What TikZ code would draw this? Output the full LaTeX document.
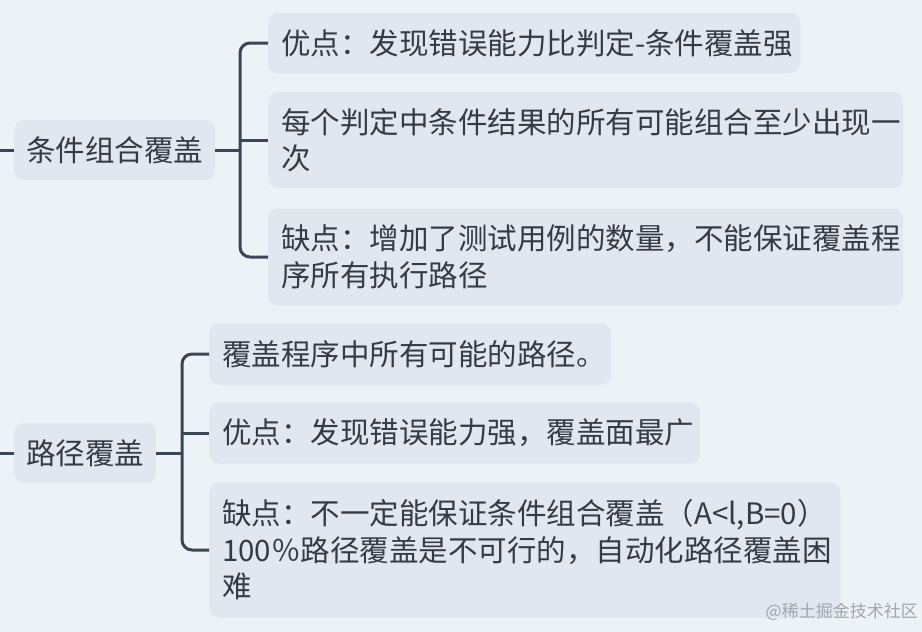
\documentclass[tikz,border=0pt]{standalone}
\usepackage{fontspec}
\usepackage{xcolor}
\usepackage{tikz}
\usetikzlibrary{positioning, calc}
\newfontfamily\cjk{Noto Sans CJK SC}
\definecolor{bgc}{RGB}{237,242,246}
\definecolor{boxc}{RGB}{226,231,239}
\definecolor{txtc}{RGB}{52,59,71}
\definecolor{linkc}{RGB}{58,70,87}
\definecolor{wmc}{RGB}{160,166,172}
\tikzset{
  topic/.style={rectangle, rounded corners=10pt, fill=boxc, text=txtc,
                inner xsep=12pt, inner ysep=0pt, minimum height=60pt,
                font=\cjk\fontsize{29.5}{36.5}\selectfont},
  leaf/.style={rectangle, rounded corners=10pt, fill=boxc, text=txtc,
               inner xsep=13pt, inner ysep=12pt, align=left, anchor=west,
               font=\cjk\fontsize{29.5}{36.5}\selectfont},
  link/.style={draw=linkc, line width=3pt, rounded corners=10pt},
  wmark/.style={font=\cjk\fontsize{17}{20}\selectfont, text=wmc, inner sep=0pt}
}
\begin{document}
\begin{tikzpicture}[x=1pt, y=-1pt]
\fill[bgc] (0,0) rectangle (922,632);
\useasboundingbox (0,0) rectangle (922,632);
% first branch
\node[topic, anchor=west, minimum width=198pt] (tcc) at (14,150) {条件组合覆盖};
\node[leaf, text width=506pt, minimum height=61pt] (tcc1) at (268,43) {\mbox{优点：发现错误能力比判定-条件覆盖强}};
\node[leaf, text width=609pt, minimum height=96pt] (tcc2) at (268,140) {每个判定中条件结果的所有可能组合至少出现一\\次};
\node[leaf, text width=609pt, minimum height=97pt] (tcc3) at (268,257) {缺点：增加了测试用例的数量，不能保证覆盖程\\序所有执行路径};
\coordinate (l1) at (0,150);
\coordinate (j1) at (240,150);
\draw[link] (l1) -- (tcc.west);
\draw[link] (tcc.east) -- (j1);
\draw[link] (tcc1.west) -| (j1) |- (tcc3.west);
\draw[link] (tcc2.west -| j1) -- (tcc2.west);
% second branch
\node[topic, anchor=west, minimum width=141pt] (pc) at (14,453) {路径覆盖};
\node[leaf, text width=376pt, minimum height=62pt] (pc1) at (209,354) {覆盖程序中所有可能的路径。};
\node[leaf, text width=465pt, minimum height=61pt] (pc2) at (209,433) {优点：发现错误能力强，覆盖面最广};
\node[leaf, text width=605pt, minimum height=135pt] (pc3) at (209,550) {缺点：不一定能保证条件组合覆盖（A<l,B=0）\\100％路径覆盖是不可行的，自动化路径覆盖困\\难};
\coordinate (l2) at (0,453);
\coordinate (j2) at (182,453);
\draw[link] (l2) -- (pc.west);
\draw[link] (pc.east) -- (j2);
\draw[link] (pc1.west) -| (j2) |- (pc3.west);
\draw[link] (pc2.west -| j2) -- (pc2.west);
\node[wmark, anchor=east] (wm) at (918,612) {@稀土掘金技术社区};
\end{tikzpicture}
\end{document}
